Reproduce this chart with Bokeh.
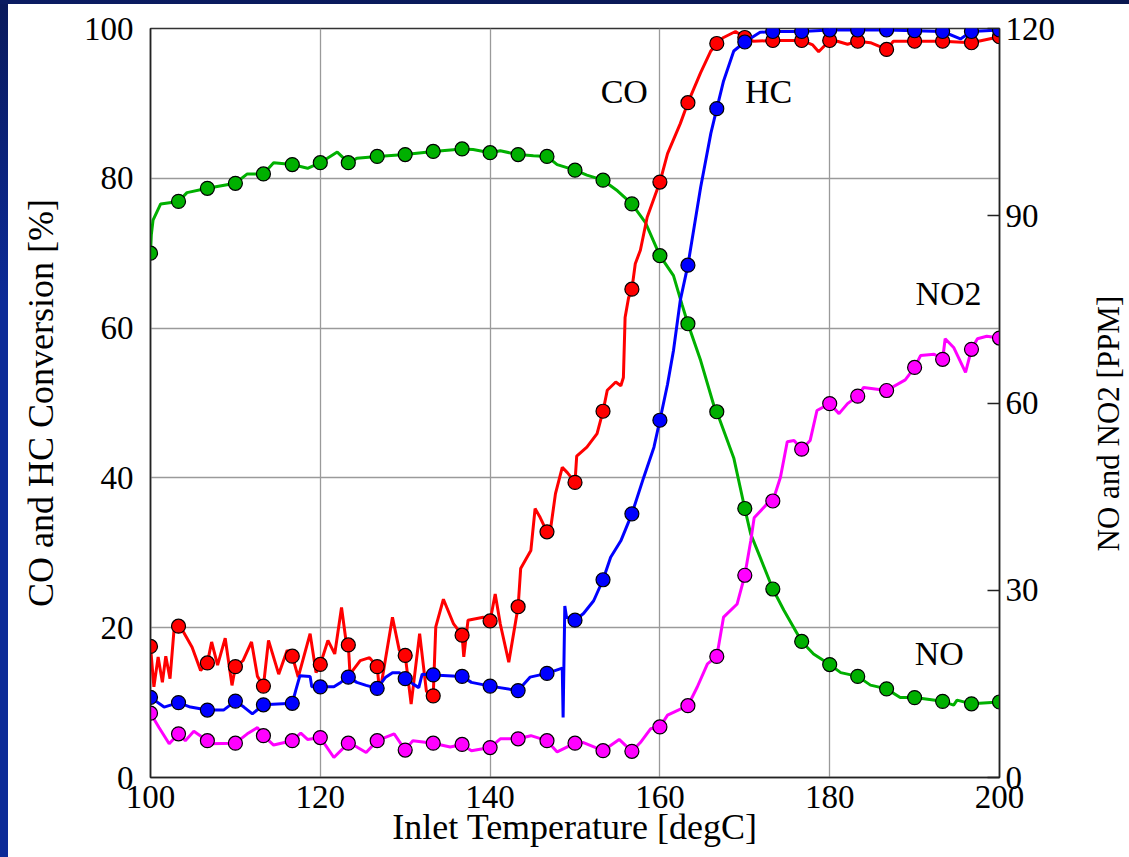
import math

from bokeh.plotting import figure
from bokeh.models import Range1d, LinearAxis, FixedTicker, Label, Spacer
from bokeh.layouts import column, row
from bokeh.embed import file_html
from bokeh.resources import INLINE

# ---- data -------------------------------------------------------------
# sample points (every ~3.3 degC), drawn as circles
marker_temp = [100.0, 103.3, 106.7, 110.0, 113.3, 116.7, 120.0, 123.3, 126.7, 130.0,
               133.3, 136.7, 140.0, 143.3, 146.7, 150.0, 153.3, 156.7, 160.0, 163.3,
               166.7, 170.0, 173.3, 176.7, 180.0, 183.3, 186.7, 190.0, 193.3, 196.7, 200.0]

co_marker = [17.5, 20.2, 15.3, 14.8, 12.2, 16.2, 15.1, 17.7, 14.8, 16.3,
             10.9, 19.0, 20.9, 22.8, 32.8, 39.4, 48.9, 65.2, 79.5, 90.1,
             98.0, 98.8, 98.4, 98.4, 98.4, 98.3, 97.2, 98.3, 98.3, 98.1, 98.9]

hc_marker = [10.7, 10.0, 9.0, 10.2, 9.7, 9.9, 12.1, 13.4, 11.9, 13.2,
             13.7, 13.5, 12.2, 11.6, 13.9, 21.0, 26.4, 35.2, 47.7, 68.4,
             89.3, 98.2, 99.6, 99.6, 99.8, 99.8, 99.8, 99.7, 99.6, 99.6, 99.8]

no_marker = [84.0, 92.3, 94.4, 95.2, 96.7, 98.2, 98.5, 98.5, 99.5, 99.8,
             100.3, 100.7, 100.1, 99.8, 99.5, 97.3, 95.7, 91.9, 83.6, 72.7,
             58.6, 43.1, 30.2, 21.8, 18.1, 16.2, 14.2, 12.8, 12.2, 11.8, 12.1]

no2_marker = [10.3, 7.0, 5.9, 5.5, 6.7, 5.9, 6.4, 5.5, 5.9, 4.4,
              5.5, 5.3, 4.8, 6.2, 5.9, 5.5, 4.3, 4.2, 8.1, 11.5,
              19.4, 32.4, 44.3, 52.6, 59.9, 61.1, 62.0, 65.7, 67.0, 68.6, 70.4]

# continuous traces
co_temp = [100.0, 100.4, 100.9, 101.4, 101.8, 102.3, 102.8, 103.3, 103.8, 104.9,
           105.9, 106.7, 107.2, 107.9, 108.8, 109.6, 110.0, 110.9, 111.9, 112.6,
           113.3, 113.9, 115.1, 116.1, 116.7, 117.4, 118.8, 119.5, 120.0, 120.9,
           121.7, 122.5, 123.0, 123.3, 123.5, 124.7, 125.8, 126.7, 127.0, 128.5,
           129.3, 130.0, 130.7, 131.7, 132.5, 133.3, 133.6, 134.5, 135.7, 136.7,
           136.9, 137.4, 139.2, 140.0, 140.6, 141.2, 142.2, 143.3, 143.6, 144.8,
           145.3, 145.9, 146.7, 147.1, 147.7, 148.5, 149.1, 150.0, 150.2, 151.4,
           152.6, 153.3, 153.8, 154.8, 155.4, 155.7, 155.9, 156.3, 156.7, 157.1,
           157.7, 158.5, 160.0, 160.9, 162.4, 163.3, 164.8, 166.0, 166.7, 167.5,
           168.9, 170.0, 171.0, 173.3, 176.7, 178.0, 178.7, 180.0, 180.9, 182.1,
           183.3, 184.8, 186.7, 187.5, 190.0, 193.3, 196.7, 200.0]
co_line = [17.5, 12.1, 16.1, 12.7, 16.2, 13.2, 20.1, 20.2, 19.6, 17.4,
           14.3, 15.3, 18.1, 15.0, 18.6, 12.3, 14.8, 15.6, 18.1, 13.5,
           12.2, 18.3, 13.8, 17.0, 16.2, 13.4, 19.2, 14.0, 15.1, 18.3,
           16.5, 22.7, 18.5, 17.7, 13.8, 15.6, 16.0, 14.8, 11.2, 21.4,
           17.0, 16.3, 9.8, 19.2, 11.5, 10.9, 20.1, 23.8, 20.5, 19.0,
           16.1, 21.0, 21.4, 20.9, 24.5, 20.5, 15.4, 22.8, 27.9, 30.3,
           35.9, 34.7, 32.8, 33.0, 37.9, 41.4, 40.7, 39.4, 42.9, 44.1,
           45.9, 48.9, 51.7, 52.8, 52.3, 53.4, 61.4, 64.0, 65.2, 68.6,
           70.4, 74.8, 79.5, 83.3, 87.3, 90.1, 94.1, 97.0, 98.0, 98.8,
           99.6, 98.8, 98.3, 98.4, 98.4, 97.8, 96.9, 98.4, 98.3, 97.9,
           98.3, 98.1, 97.2, 98.3, 98.3, 98.3, 98.1, 98.9]

hc_temp = [100.0, 101.6, 103.3, 104.7, 106.7, 108.6, 110.0, 111.0, 112.0, 113.3,
           116.7, 117.1, 117.6, 118.8, 119.0, 120.0, 121.6, 122.4, 123.3, 124.3,
           125.4, 126.7, 127.7, 128.5, 129.3, 130.0, 130.9, 131.6, 132.0, 133.3,
           136.7, 137.8, 140.0, 143.3, 144.7, 146.7, 148.5, 148.6, 148.8, 149.0,
           150.0, 151.0, 152.2, 153.3, 154.2, 155.4, 156.7, 158.1, 159.3, 160.0,
           160.9, 161.6, 162.4, 163.3, 164.8, 166.0, 166.7, 167.5, 168.7, 170.0,
           171.8, 173.3, 176.7, 180.0, 183.3, 186.7, 190.0, 193.3, 195.4, 196.7, 200.0]
hc_line = [10.7, 9.4, 10.0, 9.4, 9.0, 9.0, 10.2, 9.4, 8.5, 9.7,
           9.9, 11.6, 13.6, 13.5, 12.1, 12.1, 12.1, 12.7, 13.4, 12.7,
           12.3, 11.9, 13.4, 14.0, 14.0, 13.2, 12.5, 12.0, 13.8, 13.7,
           13.5, 12.7, 12.2, 11.6, 13.4, 13.9, 14.6, 8.0, 22.9, 21.4,
           21.0, 21.9, 23.6, 26.4, 29.4, 31.6, 35.2, 40.1, 44.1, 47.7,
           52.5, 57.0, 63.7, 68.4, 78.8, 86.0, 89.3, 93.0, 97.0, 98.2,
           99.5, 99.6, 99.6, 99.8, 99.8, 99.8, 99.7, 99.6, 98.6, 99.6, 99.8]

no_temp = [100.0, 100.1, 100.3, 101.2, 103.3, 104.3, 106.7, 110.0, 111.4, 113.3,
           114.5, 116.7, 118.5, 120.0, 122.0, 123.3, 124.3, 126.7, 130.0, 133.3,
           136.7, 138.0, 140.0, 141.2, 143.3, 145.1, 146.7, 147.9, 150.0, 151.4,
           153.3, 155.0, 156.7, 158.3, 160.0, 161.6, 162.6, 163.3, 164.8, 166.4,
           166.7, 168.7, 170.0, 170.7, 171.8, 173.3, 174.6, 176.7, 178.1, 180.0,
           181.3, 183.3, 184.8, 186.7, 188.3, 190.0, 193.3, 194.6, 195.0, 196.7, 200.0]
no_line = [84.0, 87.0, 89.3, 91.9, 92.3, 93.7, 94.4, 95.2, 96.7, 96.7,
           98.5, 98.2, 97.6, 98.5, 100.2, 98.5, 99.2, 99.5, 99.8, 100.3,
           100.7, 100.6, 100.1, 100.4, 99.8, 99.6, 99.5, 98.2, 97.3, 96.5,
           95.7, 94.0, 91.9, 88.9, 83.6, 80.4, 75.8, 72.7, 66.8, 59.4,
           58.6, 51.2, 43.1, 39.0, 35.3, 30.2, 26.8, 21.8, 19.8, 18.1,
           16.8, 16.2, 14.8, 14.2, 12.8, 12.8, 12.2, 11.6, 12.4, 11.8, 12.1]

no2_temp = [100.0, 101.0, 102.2, 103.3, 104.1, 105.1, 106.7, 106.9, 110.0, 111.4,
            112.6, 113.3, 114.5, 116.7, 117.7, 118.5, 120.0, 121.6, 123.3, 124.3,
            125.4, 126.7, 128.7, 130.0, 130.9, 133.3, 135.3, 136.7, 137.8, 140.0,
            141.2, 143.3, 144.8, 146.7, 147.9, 150.0, 151.0, 153.3, 155.2, 156.7,
            157.7, 158.9, 160.0, 160.9, 163.3, 164.4, 165.6, 166.7, 167.5, 169.1,
            170.0, 170.7, 171.1, 172.6, 173.3, 174.2, 175.0, 175.8, 176.7, 177.7,
            178.5, 180.0, 181.1, 182.1, 183.3, 184.0, 186.7, 188.9, 190.0, 190.7,
            192.3, 193.3, 193.6, 194.6, 196.0, 196.7, 197.4, 198.5, 200.0]
no2_line = [10.3, 8.0, 5.4, 7.0, 5.9, 7.4, 5.9, 5.4, 5.5, 7.0,
            8.0, 6.7, 5.2, 5.9, 7.1, 6.1, 6.4, 3.2, 5.5, 4.9,
            4.0, 5.9, 7.0, 4.4, 5.9, 5.5, 4.9, 5.3, 4.3, 4.8,
            6.2, 6.2, 6.7, 5.9, 4.1, 5.5, 5.6, 4.3, 6.1, 4.2,
            5.6, 7.8, 8.1, 10.0, 11.5, 14.5, 18.2, 19.4, 25.7, 27.8,
            32.4, 37.9, 41.6, 43.8, 44.3, 48.1, 53.8, 54.0, 52.6, 54.0,
            58.8, 59.9, 58.3, 59.9, 61.1, 62.5, 62.0, 63.7, 65.7, 67.6,
            67.8, 67.0, 70.3, 68.9, 64.9, 68.6, 70.3, 70.7, 70.4]

x_ticks = [100, 120, 140, 160, 180, 200]
pct_ticks = [0, 20, 40, 60, 80, 100]
ppm_ticks = [0, 30, 60, 90, 120]

# ---- main figure ------------------------------------------------------
SERIF = "Liberation Serif"

p = figure(width=1062, height=853, output_backend="svg", toolbar_location=None,
           x_range=Range1d(100, 200), y_range=Range1d(0, 100),
           min_border_left=142, min_border_right=71,
           min_border_top=24, min_border_bottom=80)
p.extra_y_ranges = {"ppm": Range1d(0, 120)}

p.background_fill_color = "white"
p.border_fill_color = "white"
p.outline_line_color = "#333333"
p.outline_line_width = 1.5

p.xgrid.ticker = FixedTicker(ticks=x_ticks)
p.ygrid.ticker = FixedTicker(ticks=pct_ticks)
for g in (p.xgrid, p.ygrid):
    g.grid_line_color = "#9a9a9a"
    g.grid_line_width = 1.3

xa = p.xaxis[0]
xa.ticker = FixedTicker(ticks=x_ticks)
xa.axis_label = "Inlet Temperature [degC]"
xa.major_label_standoff = 8
xa.axis_label_standoff = -4

ya = p.yaxis[0]
ya.ticker = FixedTicker(ticks=pct_ticks)
ya.axis_label = "CO and HC Conversion [%]"
ya.major_label_standoff = 17
ya.axis_label_standoff = 20

ra = LinearAxis(y_range_name="ppm", ticker=FixedTicker(ticks=ppm_ticks))
p.add_layout(ra, "right")
ra.major_label_standoff = 6
ra.major_tick_in = 12
ra.major_tick_out = 0

for ax in (xa, ya):
    ax.major_tick_in = 0
    ax.major_tick_out = 0

for ax in (xa, ya, ra):
    ax.minor_tick_line_color = None
    ax.axis_line_color = "#222222"
    ax.axis_line_width = 1.5
    ax.major_tick_line_color = "#222222"
    ax.major_tick_line_width = 1.5
    ax.major_label_text_font = SERIF
    ax.major_label_text_font_size = "33px"
    ax.major_label_text_color = "black"
    ax.axis_label_text_font = SERIF
    ax.axis_label_text_font_style = "normal"
    ax.axis_label_text_color = "black"
xa.axis_label_text_font_size = "36px"
ya.axis_label_text_font_size = "36px"

# ---- series -----------------------------------------------------------
LW = 3
MS = 14

p.line(no_temp, no_line, color="#00b000", line_width=LW, y_range_name="ppm")
p.scatter(marker_temp, no_marker, size=MS, fill_color="#00b000", line_color="black",
          line_width=1.2, y_range_name="ppm")

p.line(no2_temp, no2_line, color="#ff00ff", line_width=LW, y_range_name="ppm")
p.scatter(marker_temp, no2_marker, size=MS, fill_color="#ff00ff", line_color="black",
          line_width=1.2, y_range_name="ppm")

p.line(co_temp, co_line, color="#ff0000", line_width=LW)
p.scatter(marker_temp, co_marker, size=MS, fill_color="#ff0000", line_color="black",
          line_width=1.2)

p.line(hc_temp, hc_line, color="#0000ff", line_width=LW)
p.scatter(marker_temp, hc_marker, size=MS, fill_color="#0000ff", line_color="black",
          line_width=1.2)

# series names next to the curves
for txt, tx, ty, rng in [("CO", 155.8, 91.6, "default"),
                         ("HC", 172.8, 91.6, "default"),
                         ("NO2", 194.0, 77.5, "ppm"),
                         ("NO", 192.9, 19.9, "ppm")]:
    p.add_layout(Label(x=tx, y=ty, y_range_name=rng, text=txt,
                       text_font=SERIF, text_font_size="34px", text_color="black",
                       text_align="center", text_baseline="middle"))

# ---- right-hand axis title (reads bottom-to-top, like the left one) ----
title_panel = figure(width=59, height=853, output_backend="svg", toolbar_location=None,
                     x_range=Range1d(0, 59), y_range=Range1d(0, 853),
                     x_axis_type=None, y_axis_type=None, min_border=0)
title_panel.grid.visible = False
title_panel.outline_line_color = None
title_panel.background_fill_color = "white"
title_panel.border_fill_color = "white"
title_panel.add_layout(Label(x=38, y=403, text="NO and NO2 [PPM]", angle=math.pi / 2,
                             text_font=SERIF, text_font_size="31px", text_color="black",
                             text_align="center", text_baseline="middle"))

# ---- slide frame ------------------------------------------------------
top_band = Spacer(width=1129, height=4,
                  styles={"background": "linear-gradient(to right, #0b1c62, #09174f)"})
left_band = Spacer(width=8, height=853,
                   styles={"background": "linear-gradient(to bottom, #0a1a5c 0%, #0c2b98 35%, #0c2b98 100%)"})

layout = column(top_band, row(left_band, p, title_panel, spacing=0), spacing=0)

open("out.html", "w").write(file_html(layout, INLINE))
